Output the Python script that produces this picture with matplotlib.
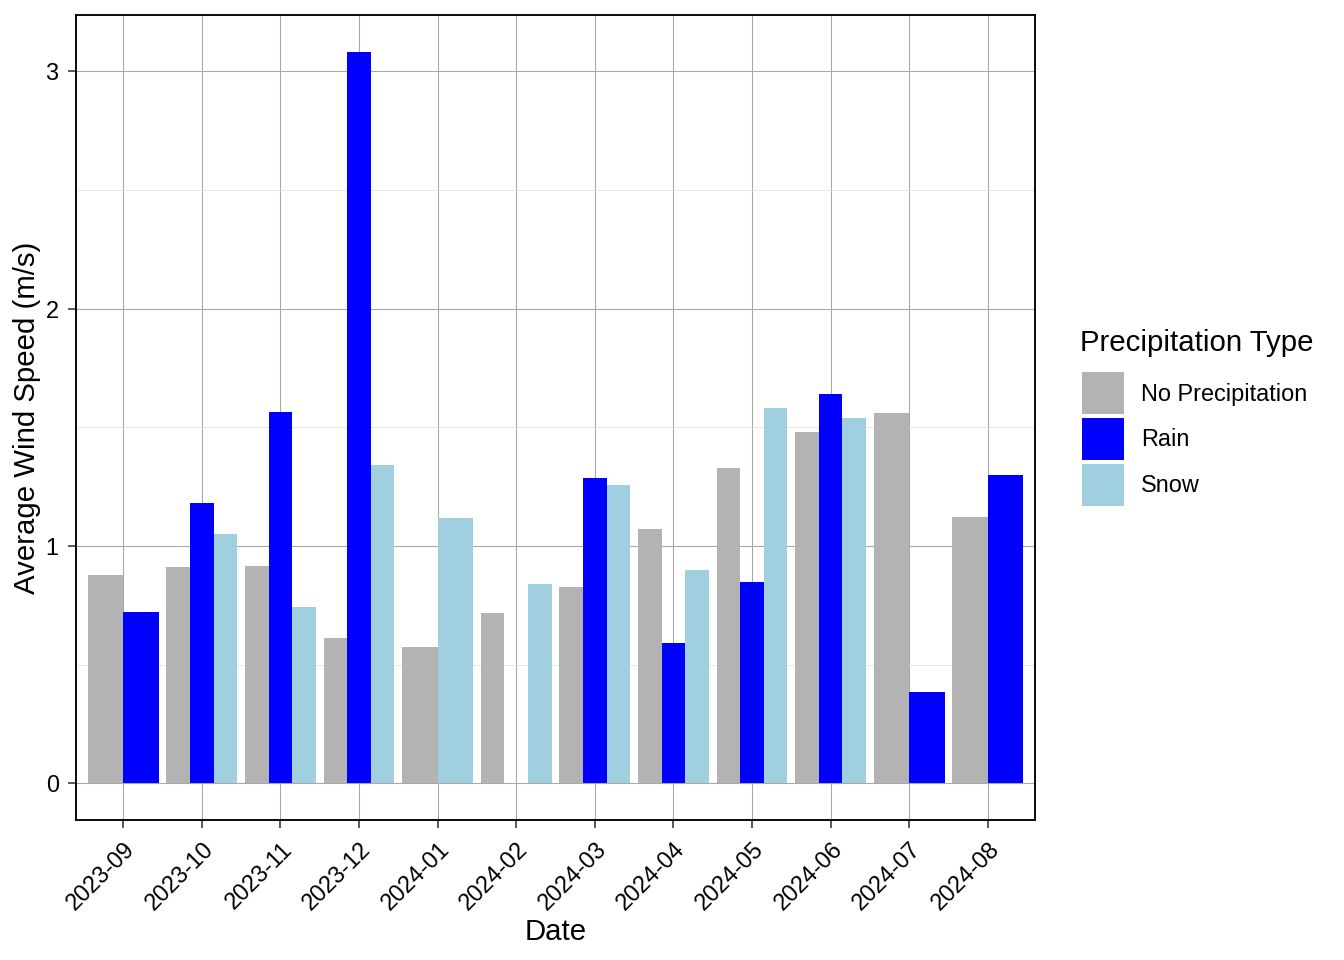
import numpy as np
import matplotlib.pyplot as plt
from matplotlib.patches import Rectangle

plt.rcParams['font.family'] = ['Liberation Sans', 'DejaVu Sans']

dates = ["2023-09", "2023-10", "2023-11", "2023-12", "2024-01", "2024-02",
         "2024-03", "2024-04", "2024-05", "2024-06", "2024-07", "2024-08"]
types = ["No Precipitation", "Rain", "Snow"]
colors = ["#B3B3B3", "#0000FF", "#A0CFE0"]

# nan = no bar for that month (bars of the others get wider, like ggplot dodge)
no_precip = [0.878, 0.912, 0.916, 0.613, 0.576, 0.718, 0.828, 1.071, 1.328, 1.483, 1.559, 1.122]
rain = [0.723, 1.18, 1.567, 3.084, np.nan, 0.0, 1.286, 0.592, 0.849, 1.643, 0.387, 1.298]
snow = [np.nan, 1.05, 0.744, 1.34, 1.118, 0.84, 1.256, 0.899, 1.58, 1.542, np.nan, np.nan]
series = [no_precip, rain, snow]

fig = plt.figure(figsize=(7, 5), dpi=192)
ax = fig.add_axes([76 / 1344, 1 - 820 / 960, (1035 - 76) / 1344, (820 - 15) / 960])

total = 0.9
for i, d in enumerate(dates):
    present = [k for k in range(3) if not np.isnan(series[k][i])]
    w = total / len(present)
    left = i + 1 - total / 2
    for j, k in enumerate(present):
        ax.bar(left + w * (j + 0.5), series[k][i], width=w, color=colors[k], lw=0, zorder=2)

ax.set_xlim(0.4, 12.6)
ax.set_ylim(-0.154, 3.238)
ax.set_xticks(range(1, 13))
ax.set_xticklabels(dates, rotation=45, ha='right', rotation_mode='anchor', fontsize=8.8)
ax.set_yticks([0, 1, 2, 3])
ax.set_yticks([0.5, 1.5, 2.5], minor=True)
ax.tick_params(axis='y', labelsize=8.8, length=3, width=0.6, color='#333333')
ax.tick_params(axis='x', length=3, width=0.6, color='#333333')
ax.tick_params(which='minor', length=0)
ax.grid(which='major', color='#a8a8a8', lw=0.4, zorder=0)
ax.grid(which='minor', color='#e2e2e2', lw=0.3, zorder=0)
for s in ax.spines.values():
    s.set_linewidth(0.7)
    s.set_color('black')
ax.set_xlabel("Date", fontsize=11, labelpad=1.4)
ax.set_ylabel("Average Wind Speed (m/s)", fontsize=11, labelpad=1.6)

# legend
W, H = 1344, 960
fig.text(1080 / W, 1 - 343 / H, "Precipitation Type", fontsize=11, va='center', ha='left')
for k, t in enumerate(types):
    y0 = 372 + k * 46
    fig.add_artist(Rectangle((1082 / W, 1 - (y0 + 42) / H), 42 / W, 42 / H,
                             transform=fig.transFigure, facecolor=colors[k], lw=0))
    fig.text(1141 / W, 1 - (y0 + 22) / H, t, fontsize=8.8, va='center', ha='left')

fig.savefig("out.png", dpi=192)
